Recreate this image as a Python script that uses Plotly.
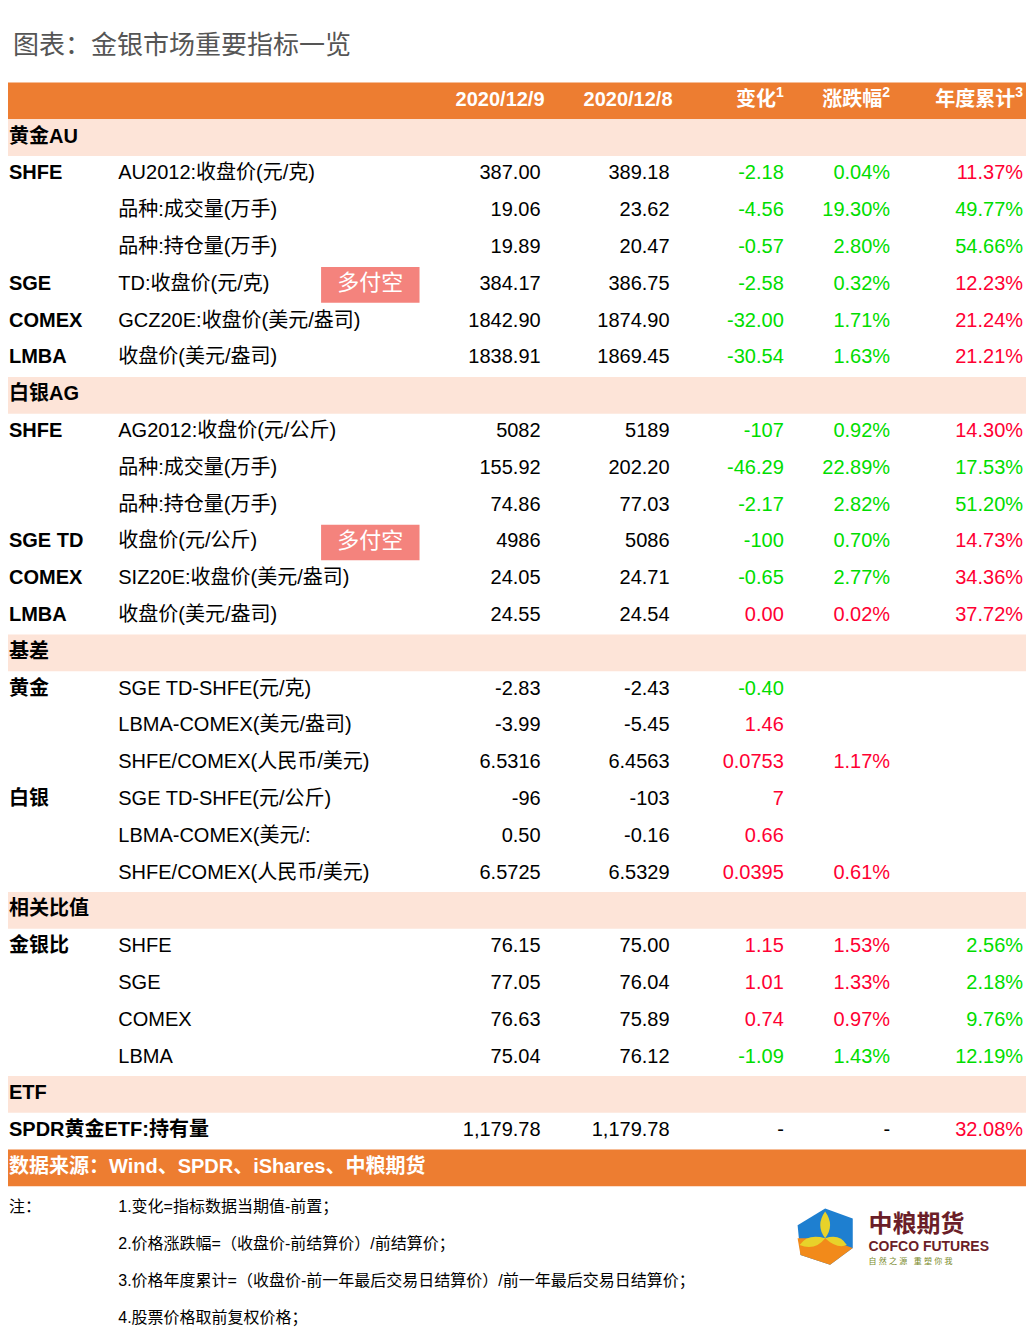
import plotly.graph_objects as go

W, H = 1034, 1344
PAD = 8  # page body margin around the figure div
ROW0, ROW_H = 94, 37.24
FONT = "Liberation Sans, Arial, Noto Sans CJK SC"
ORANGE = "#ED7D31"
BAND = "#FDE4D8"
GREEN = "#00DD00"
RED = "#FF0033"

title = "图表：金银市场重要指标一览"
headers = ["2020/12/9", "2020/12/8", "变化<sup>1</sup>", "涨跌幅<sup>2</sup>", "年度累计<sup>3</sup>"]

# row index -> section title
sections = {1: "黄金AU", 8: "白银AG", 15: "基差", 22: "相关比值", 27: "ETF"}

rows = [2, 3, 4, 5, 6, 7, 9, 10, 11, 12, 13, 14, 16, 17, 18, 19, 20, 21, 23, 24, 25, 26, 28]
col1 = ["SHFE", "", "", "SGE", "COMEX", "LMBA", "SHFE", "", "", "SGE TD", "COMEX", "LMBA",
        "黄金", "", "", "白银", "", "", "金银比", "", "", "", "SPDR黄金ETF:持有量"]
col2 = ["AU2012:收盘价(元/克)", "品种:成交量(万手)", "品种:持仓量(万手)", "TD:收盘价(元/克)",
        "GCZ20E:收盘价(美元/盎司)", "收盘价(美元/盎司)", "AG2012:收盘价(元/公斤)", "品种:成交量(万手)",
        "品种:持仓量(万手)", "收盘价(元/公斤)", "SIZ20E:收盘价(美元/盎司)", "收盘价(美元/盎司)",
        "SGE TD-SHFE(元/克)", "LBMA-COMEX(美元/盎司)", "SHFE/COMEX(人民币/美元)", "SGE TD-SHFE(元/公斤)",
        "LBMA-COMEX(美元/:", "SHFE/COMEX(人民币/美元)", "SHFE", "SGE", "COMEX", "LBMA", ""]
v_1209 = ["387.00", "19.06", "19.89", "384.17", "1842.90", "1838.91", "5082", "155.92", "74.86", "4986",
          "24.05", "24.55", "-2.83", "-3.99", "6.5316", "-96", "0.50", "6.5725", "76.15", "77.05",
          "76.63", "75.04", "1,179.78"]
v_1208 = ["389.18", "23.62", "20.47", "386.75", "1874.90", "1869.45", "5189", "202.20", "77.03", "5086",
          "24.71", "24.54", "-2.43", "-5.45", "6.4563", "-103", "-0.16", "6.5329", "75.00", "76.04",
          "75.89", "76.12", "1,179.78"]
change = ["-2.18", "-4.56", "-0.57", "-2.58", "-32.00", "-30.54", "-107", "-46.29", "-2.17", "-100",
          "-0.65", "0.00", "-0.40", "1.46", "0.0753", "7", "0.66", "0.0395", "1.15", "1.01", "0.74",
          "-1.09", "-"]
pct = ["0.04%", "19.30%", "2.80%", "0.32%", "1.71%", "1.63%", "0.92%", "22.89%", "2.82%", "0.70%",
       "2.77%", "0.02%", "", "", "1.17%", "", "", "0.61%", "1.53%", "1.33%", "0.97%", "1.43%", "-"]
ytd = ["11.37%", "49.77%", "54.66%", "12.23%", "21.24%", "21.21%", "14.30%", "17.53%", "51.20%", "14.73%",
       "34.36%", "37.72%", "", "", "", "", "", "", "2.56%", "2.18%", "9.76%", "12.19%", "32.08%"]
# g = green, r = red, k = black
chg_col = list("ggggggggggg" "r" "g" "rrrrrrrr" "g" "k")
ytd_col = list("rggrrrrggrrr" "kkkkkk" "gggg" "r")
tag_rows = [5, 12]
tag_text = "多付空"

source = "数据来源：Wind、SPDR、iShares、中粮期货"
notes = ["1.变化=指标数据当期值-前置；",
         "2.价格涨跌幅=（收盘价-前结算价）/前结算价；",
         "3.价格年度累计=（收盘价-前一年最后交易日结算价）/前一年最后交易日结算价；",
         "4.股票价格取前复权价格；"]

cmap = {"g": GREEN, "r": RED, "k": "black"}
ry = lambda i: ROW0 + ROW_H * i

fig = go.Figure()
shapes = []
# bands
for i in [0, 29]:
    shapes.append(dict(type="rect", x0=0, x1=W, y0=ry(i) - 18.6, y1=ry(i) + 18.6,
                       fillcolor=ORANGE, line_width=0, layer="below"))
for i in sections:
    shapes.append(dict(type="rect", x0=0, x1=W, y0=ry(i) - 18.6, y1=ry(i) + 18.6,
                       fillcolor=BAND, line_width=0, layer="below"))
for i in tag_rows:
    shapes.append(dict(type="rect", x0=318, x1=418, y0=ry(i) - 18, y1=ry(i) + 18,
                       fillcolor="#F4837D", line_width=0, layer="below"))


def txt(xs, ys, texts, pos, color="black", size=20, bold=False):
    colors = color if isinstance(color, list) else [color] * len(texts)
    t = [f"<b>{s}</b>" if bold and s else s for s in texts]
    fig.add_trace(go.Scatter(x=xs, y=ys, mode="text", text=t, textposition=pos, cliponaxis=False,
                             textfont=dict(family=FONT, size=size, color=colors),
                             hoverinfo="skip", showlegend=False))


LEFT = 1
ys = [ry(i) for i in rows]
txt([LEFT] * len(rows), ys, col1, "middle right", bold=True)
txt([112] * len(rows), ys, col2, "middle right")
txt([541] * len(rows), ys, v_1209, "middle left")
txt([672] * len(rows), ys, v_1208, "middle left")
txt([788] * len(rows), ys, change, "middle left", color=[cmap[c] for c in chg_col])
txt([896] * len(rows), ys, pct, "middle left", color=[cmap[c] for c in chg_col])
txt([1031] * len(rows), ys, ytd, "middle left", color=[cmap[c] for c in ytd_col])
txt([LEFT] * len(sections), [ry(i) for i in sections], list(sections.values()), "middle right", bold=True)
txt([368] * len(tag_rows), [ry(i) for i in tag_rows], [tag_text] * len(tag_rows), "middle center",
    color="white", size=22)
txt([545, 675, 788, 896, 1031], [ry(0)] * 5, headers, "middle left", color="white", bold=True)
txt([LEFT], [ry(29)], [source], "middle right", color="white", bold=True)
txt([LEFT], [ry(30.1)], ["注："], "middle right", size=16)
txt([112] * 4, [ry(30.1 + k) for k in range(4)], notes, "middle right", size=16)
txt([LEFT + 4], [40], [title], "middle right", color="#555555", size=26)

# logo
shapes += [
    dict(type="path", path="M 830 1215 L 858 1225 L 858 1255 L 835 1272 L 805 1262 L 802 1232 Z",
         fillcolor="#1E7FD0", line_width=0),
    dict(type="path", path="M 830 1245 L 858 1255 L 835 1272 L 805 1262 L 802 1245 Z",
         fillcolor="#F28A1A", line_width=0),
    dict(type="path", path="M 830 1245 Q 820 1232 830 1218 Q 840 1232 830 1245 Z",
         fillcolor="#E8D22A", line_width=0),
    dict(type="path", path="M 830 1245 Q 812 1240 804 1252 Q 820 1258 830 1245 Z",
         fillcolor="#E8D22A", line_width=0),
    dict(type="path", path="M 830 1245 Q 842 1256 852 1252 Q 845 1240 830 1245 Z",
         fillcolor="#E8D22A", line_width=0),
]
txt([874], [1233], ["<b>中粮期货</b>"], "middle right", color="#6B1E28", size=24)
txt([874], [1254], ["<b>COFCO FUTURES</b>"], "middle right", color="#6B1E28", size=14)
txt([874], [1269], ["自 然 之 源   重 塑 你 我"], "middle right", color="#7A8A2A", size=8)

fig.update_layout(
    width=W - 2 * PAD, height=H - 2 * PAD, margin=dict(l=0, r=0, t=0, b=0),
    plot_bgcolor="white", paper_bgcolor="white", shapes=shapes,
    xaxis=dict(range=[0, W], visible=False, fixedrange=True),
    yaxis=dict(range=[H, 0], visible=False, fixedrange=True),
)
fig.write_html("out.html")
